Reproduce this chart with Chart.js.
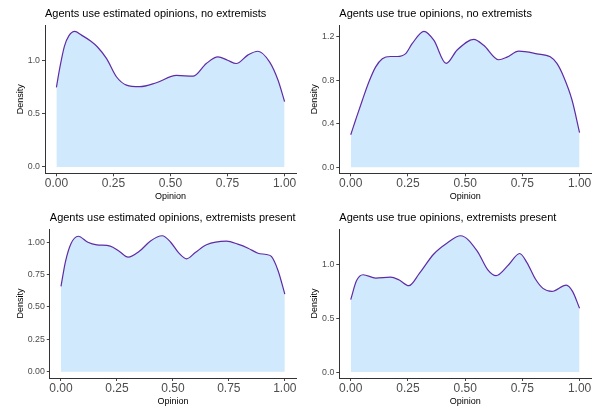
<!DOCTYPE html>
<html>
<head>
<meta charset="utf-8">
<script src="https://cdn.jsdelivr.net/npm/chart.js@4/dist/chart.umd.min.js"></script>
<style>
  body { margin: 0; background: #fff; }
  #wrap { position: relative; width: 597px; height: 409px; }
  canvas { position: absolute; }
</style>
</head>
<body>
<div id="wrap">
  <canvas id="p1" width="298" height="204" style="left:0;top:0"></canvas>
  <canvas id="p2" width="300" height="204" style="left:297px;top:0"></canvas>
  <canvas id="p3" width="298" height="205" style="left:0;top:204px"></canvas>
  <canvas id="p4" width="300" height="205" style="left:297px;top:204px"></canvas>
</div>
<script>
// values
const xTicks = [0, 0.25, 0.5, 0.75, 1];

const estNoExtX = [0, 0.015, 0.035, 0.055, 0.08, 0.11, 0.15, 0.18, 0.22, 0.263, 0.307, 0.365, 0.438, 0.526, 0.6, 0.657, 0.708, 0.75, 0.788, 0.84, 0.883, 0.934, 0.971, 1];
const estNoExtY = [0.745, 0.93, 1.13, 1.23, 1.27, 1.235, 1.18, 1.124, 1.015, 0.845, 0.767, 0.752, 0.789, 0.857, 0.851, 0.969, 1.031, 1.0, 0.969, 1.05, 1.084, 0.984, 0.814, 0.612];

const trueNoExtX = [0, 0.022, 0.051, 0.08, 0.109, 0.138, 0.174, 0.203, 0.24, 0.269, 0.32, 0.363, 0.417, 0.465, 0.538, 0.581, 0.647, 0.683, 0.734, 0.814, 0.872, 0.901, 0.93, 0.967, 1];
const trueNoExtY = [0.30, 0.44, 0.62, 0.79, 0.925, 1.0, 1.02, 1.02, 1.047, 1.14, 1.252, 1.17, 0.956, 1.08, 1.178, 1.123, 0.99, 1.014, 1.069, 1.045, 1.017, 0.956, 0.836, 0.62, 0.32];

const estExtX = [0, 0.02, 0.045, 0.077, 0.12, 0.16, 0.22, 0.26, 0.3, 0.35, 0.4, 0.452, 0.49, 0.525, 0.561, 0.6, 0.65, 0.74, 0.79, 0.836, 0.88, 0.918, 0.94, 0.97, 1];
const estExtY = [0.66, 0.85, 0.99, 1.046, 1.0, 0.98, 0.97, 0.93, 0.885, 0.93, 1.01, 1.05, 1.0, 0.92, 0.872, 0.92, 0.98, 1.008, 0.985, 0.954, 0.915, 0.905, 0.89, 0.78, 0.60];

const trueExtX = [0, 0.025, 0.054, 0.109, 0.174, 0.21, 0.254, 0.3, 0.363, 0.42, 0.48, 0.552, 0.6, 0.635, 0.69, 0.738, 0.77, 0.807, 0.84, 0.879, 0.942, 0.97, 1];
const trueExtY = [0.675, 0.85, 0.907, 0.876, 0.885, 0.86, 0.805, 0.92, 1.10, 1.2, 1.27, 1.13, 0.95, 0.898, 1.0, 1.105, 1.02, 0.867, 0.78, 0.752, 0.811, 0.75, 0.594];

function toPoints(xs, ys) {
  return xs.map((x, i) => ({ x: x, y: ys[i] }));
}

const fontFamily = 'Liberation Sans, Arial, sans-serif';

function makePanel(id, p) {
  new Chart(document.getElementById(id), {
    type: 'line',
    data: {
      datasets: [{
        data: toPoints(p.xs, p.ys),
        borderColor: '#5e2ca5',
        borderWidth: 1.2,
        backgroundColor: '#d1e9fc',
        fill: 'origin',
        pointRadius: 0,
        cubicInterpolationMode: 'monotone'
      }]
    },
    options: {
      responsive: false,
      animation: false,
      devicePixelRatio: 1,
      layout: { padding: { right: p.padRight, left: 0, top: 0, bottom: 0 } },
      plugins: {
        legend: { display: false },
        tooltip: { enabled: false },
        title: {
          display: true,
          text: p.title,
          align: 'start',
          fullSize: false,
          color: '#000',
          font: { family: fontFamily, size: 11, weight: 'normal' },
          padding: { top: 7.4, bottom: 4.4 }
        }
      },
      scales: {
        x: {
          type: 'linear',
          min: -0.05,
          max: 1.05,
          afterBuildTicks: s => { s.ticks = xTicks.map(v => ({ value: v })); },
          afterFit: s => { s.height = p.xHeight; },
          ticks: {
            color: '#4d4d4d',
            padding: 0,
            font: { family: fontFamily, size: 12 },
            callback: v => v.toFixed(2)
          },
          grid: { display: true, drawOnChartArea: false, drawTicks: true, tickLength: 3, color: '#444' },
          border: { display: true, color: '#333', width: 1 },
          title: {
            display: true, text: 'Opinion', color: '#000',
            font: { family: fontFamily, size: 9 },
            padding: { top: 0, bottom: 2 }
          }
        },
        y: {
          type: 'linear',
          min: p.yMin,
          max: p.yMax,
          afterBuildTicks: s => { s.ticks = p.yTicks.map(v => ({ value: v })); },
          afterFit: s => { s.width = p.yWidth; },
          ticks: {
            color: '#4d4d4d',
            padding: 2,
            font: { family: fontFamily, size: 8.8 },
            callback: v => v.toFixed(p.yDec)
          },
          grid: { display: true, drawOnChartArea: false, drawTicks: true, tickLength: 3, color: '#444' },
          border: { display: true, color: '#333', width: 1 },
          title: {
            display: true, text: 'Density', color: '#000',
            font: { family: fontFamily, size: 9 },
            padding: { top: p.yTitlePad, bottom: 0 }
          }
        }
      }
    }
  });
}

makePanel('p1', {
  title: 'Agents use estimated opinions, no extremists',
  xs: estNoExtX, ys: estNoExtY,
  yMin: -0.06, yMax: 1.33, yTicks: [0, 0.5, 1.0], yDec: 1,
  yWidth: 45, padRight: 2, xHeight: 30.7, yTitlePad: 15.6
});
makePanel('p2', {
  title: 'Agents use true opinions, no extremists',
  xs: trueNoExtX, ys: trueNoExtY,
  yMin: -0.055, yMax: 1.31, yTicks: [0, 0.4, 0.8, 1.2], yDec: 1,
  yWidth: 42.3, padRight: 6, xHeight: 30.7, yTitlePad: 11.9
});
makePanel('p3', {
  title: 'Agents use estimated opinions, extremists present',
  xs: estExtX, ys: estExtY,
  yMin: -0.048, yMax: 1.102, yTicks: [0, 0.25, 0.5, 0.75, 1.0], yDec: 2,
  yWidth: 49.8, padRight: 2, xHeight: 31, yTitlePad: 15.3
});
makePanel('p4', {
  title: 'Agents use true opinions, extremists present',
  xs: trueExtX, ys: trueExtY,
  yMin: -0.055, yMax: 1.333, yTicks: [0, 0.5, 1.0], yDec: 1,
  yWidth: 42.3, padRight: 6, xHeight: 31, yTitlePad: 11.9
});
</script>
</body>
</html>
